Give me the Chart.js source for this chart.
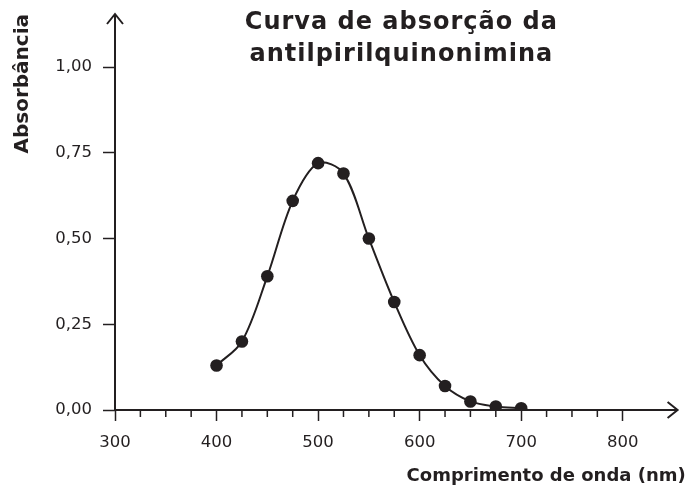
<!DOCTYPE html>
<html>
<head>
<meta charset="utf-8">
<script src="https://cdn.jsdelivr.net/npm/chart.js@4"></script>
<style>
  body { margin: 0; background: #fff; }
  #wrap { width: 692px; height: 488px; }
</style>
</head>
<body>
<div id="wrap"><canvas id="absChart"></canvas></div>
<script>
const ink = '#231f20'

// data
const wavelengths = [400, 425, 450, 475, 500, 525, 550, 575, 600, 625, 650, 675, 700]
const absorbance = [0.13, 0.20, 0.39, 0.61, 0.72, 0.69, 0.50, 0.315, 0.16, 0.07, 0.025, 0.01, 0.005]
const xMajorTicks = [300, 400, 500, 600, 700, 800]
const xMinorTicks = [325, 350, 375, 425, 450, 475, 525, 550, 575, 625, 650, 675, 725, 750, 775]
const yTicks = [0, 0.25, 0.5, 0.75, 1.0]
const titleLines = ['Curva de absorção da', 'antilpirilquinonimina']

const points = wavelengths.map((w, i) => ({ x: w, y: absorbance[i] }))

const fmt = v => v.toFixed(2).replace('.', ',')

// axes with arrow heads, minor ticks, title
const axesPlugin = {
    id: 'axesPlugin',
    afterDraw(chart) {
        const ctx = chart.ctx
        const xs = chart.scales.x
        const ys = chart.scales.y
        const x0 = xs.getPixelForValue(300)
        const y0 = ys.getPixelForValue(0)
        const xEnd = xs.getPixelForValue(854)
        const yEnd = ys.getPixelForValue(1.155)

        ctx.save()
        ctx.strokeStyle = ink
        ctx.lineWidth = 2
        ctx.beginPath()
        ctx.moveTo(x0, y0)
        ctx.lineTo(xEnd, y0)
        ctx.moveTo(x0, y0)
        ctx.lineTo(x0, yEnd)
        ctx.stroke()

        // arrow heads
        ctx.beginPath()
        ctx.moveTo(xEnd - 10, y0 - 8)
        ctx.lineTo(xEnd, y0)
        ctx.lineTo(xEnd - 10, y0 + 8)
        ctx.moveTo(x0 - 8, yEnd + 10)
        ctx.lineTo(x0, yEnd)
        ctx.lineTo(x0 + 8, yEnd + 10)
        ctx.stroke()

        // minor ticks
        ctx.lineWidth = 1.5
        ctx.beginPath()
        xMinorTicks.forEach(v => {
            const px = xs.getPixelForValue(v)
            ctx.moveTo(px, y0)
            ctx.lineTo(px, y0 + 7)
        })
        ctx.stroke()

        // chart title
        ctx.fillStyle = ink
        ctx.font = 'bold 24px "DejaVu Sans"'
        ctx.letterSpacing = '1px'
        ctx.textAlign = 'center'
        ctx.textBaseline = 'alphabetic'
        const cx = (chart.chartArea.left + chart.chartArea.right) / 2 + 1
        ctx.fillText(titleLines[0], cx, 29)
        ctx.fillText(titleLines[1], cx, 61)
        ctx.restore()
    }
}

const noPad = s => {
    s.paddingTop = 0
    s.paddingBottom = 0
    s.paddingLeft = 0
    s.paddingRight = 0
}

const ctx = document.getElementById('absChart')
new Chart(ctx, {
    type: 'line',
    data: {
        datasets: [{
            data: points,
            borderColor: ink,
            backgroundColor: ink,
            borderWidth: 2,
            pointRadius: 6.3,
            pointHoverRadius: 6.3,
            pointBorderWidth: 0,
            tension: 0.33,
            fill: false,
        }],
    },
    options: {
        responsive: true,
        maintainAspectRatio: false,
        animation: false,
        layout: { padding: { top: 14, right: 4, left: 0, bottom: 0 } },
        plugins: {
            legend: { display: false },
            tooltip: { enabled: false },
        },
        scales: {
            x: {
                type: 'linear',
                min: 300,
                max: 862,
                afterBuildTicks: s => { s.ticks = xMajorTicks.map(v => ({ value: v })) },
                afterFit: s => { s.height = 78; noPad(s) },
                border: { display: false },
                grid: {
                    drawOnChartArea: false,
                    drawTicks: true,
                    tickLength: 11,
                    tickColor: ink,
                    tickWidth: 1.5,
                },
                ticks: {
                    color: ink,
                    font: { family: 'DejaVu Sans', size: 16.5 },
                    padding: 12,
                    maxRotation: 0,
                    callback: v => v,
                },
                title: {
                    display: true,
                    text: 'Comprimento de onda (nm)',
                    align: 'end',
                    color: ink,
                    font: { family: 'DejaVu Sans', size: 18, weight: 'bold' },
                    padding: { top: 0, bottom: 1 },
                },
            },
            y: {
                type: 'linear',
                min: 0,
                max: 1.155,
                afterBuildTicks: s => { s.ticks = yTicks.map(v => ({ value: v })) },
                afterFit: s => { s.width = 115; noPad(s) },
                border: { display: false },
                grid: {
                    drawOnChartArea: false,
                    drawTicks: true,
                    tickLength: 12,
                    tickColor: ink,
                    tickWidth: 1.5,
                },
                ticks: {
                    color: ink,
                    font: { family: 'DejaVu Sans', size: 16.5 },
                    padding: 11,
                    callback: v => fmt(v),
                },
                title: {
                    display: true,
                    text: 'Absorbância',
                    align: 'end',
                    color: ink,
                    font: { family: 'DejaVu Sans', size: 20, weight: 'bold' },
                    padding: { top: 10.5, bottom: 0 },
                },
            },
        },
    },
    plugins: [axesPlugin],
})
</script>
</body>
</html>
